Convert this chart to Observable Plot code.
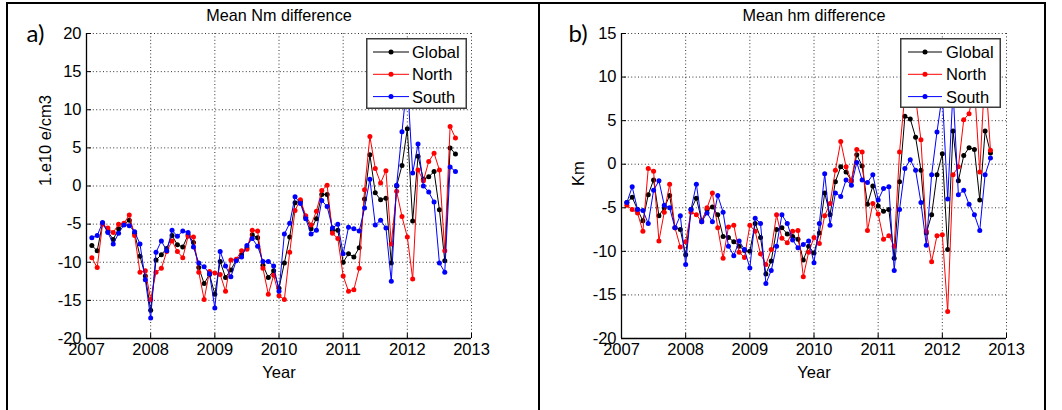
<!DOCTYPE html>
<html>
<head>
<meta charset="utf-8">
<script src="https://cdn.jsdelivr.net/npm/d3@7"></script>
<script src="https://cdn.jsdelivr.net/npm/@observablehq/plot@0.6"></script>
<style>
  body { margin: 0; background: #fff; }
  #root { position: relative; width: 1062px; height: 410px; overflow: hidden; background: #fff; }
  .panel { position: absolute; top: 0; width: 531px; height: 410px; }
  .bar { position: absolute; background: #000; }
  .legend { position: absolute; }
</style>
</head>
<body>
<div id="root"></div>
<script>
// ---------- data ----------
const xTicks = [2007, 2008, 2009, 2010, 2011, 2012, 2013];
const nmTicks = [-20, -15, -10, -5, 0, 5, 10, 15, 20];
const hmTicks = [-20, -15, -10, -5, 0, 5, 10, 15];
const seriesNames = ["Global", "North", "South"];
// month number counted from Jan 2007 (k/12 years after 2007.0)
const monthIndex = d3.range(1, 70);

const nmGlobal = [-7.8,-8.5,-4.9,-6.0,-7.0,-5.6,-5.0,-4.5,-6.2,-9.2,-11.8,-16.3,
  -9.7,-9.0,-8.2,-6.5,-7.7,-8.0,-6.4,-7.4,-10.7,-12.8,-11.6,-14.2,
  -9.9,-12.0,-11.0,-9.7,-9.0,-8.1,-6.4,-6.8,-10.4,-12.0,-11.1,-13.4,
  -10.1,-6.7,-2.2,-2.0,-4.1,-5.6,-4.3,-1.1,-1.1,-5.8,-5.8,-10.0,
  -8.9,-9.3,-8.1,-1.7,4.1,-0.9,-1.8,-1.6,-10.1,0.0,2.7,7.5,
  -4.6,3.9,0.9,1.2,1.9,-3.1,-9.8,5.0,4.2];
const nmNorth = [-9.4,-10.7,-5.0,-5.5,-6.1,-5.0,-4.9,-3.8,-6.5,-11.3,-11.1,-14.9,
  -11.3,-10.8,-8.6,-7.2,-8.6,-9.4,-6.6,-6.7,-11.3,-14.9,-11.2,-11.4,
  -11.6,-13.8,-9.7,-9.6,-8.5,-8.3,-5.8,-5.9,-10.8,-14.2,-11.7,-14.4,
  -14.9,-8.7,-3.2,-1.8,-3.9,-5.1,-3.3,-0.6,0.1,-6.2,-6.9,-11.8,
  -13.8,-13.6,-10.8,-0.5,6.5,2.3,0.4,2.0,-7.6,-0.7,-4.0,-6.7,
  -12.2,2.1,0.7,3.2,4.3,2.1,-8.5,7.8,6.3];
const nmSouth = [-6.8,-6.5,-4.8,-6.1,-7.6,-6.2,-5.1,-5.2,-6.0,-7.6,-12.3,-17.3,
  -8.7,-7.2,-8.5,-5.8,-6.6,-5.9,-6.1,-8.0,-10.1,-10.6,-11.5,-16.0,
  -8.6,-10.5,-11.9,-9.8,-9.3,-7.8,-6.9,-7.9,-9.9,-9.9,-10.5,-13.8,
  -6.3,-4.9,-1.4,-2.3,-4.3,-6.3,-5.8,-1.9,-2.7,-5.5,-5.0,-8.9,
  -5.4,-5.6,-5.9,-2.9,0.9,-5.1,-4.5,-5.5,-12.5,0.1,7.1,14.0,
  1.7,5.5,0.0,-0.8,-2.1,-10.1,-11.3,2.5,1.9];

const hmGlobal = [-4.4,-3.8,-5.2,-6.5,-3.5,-1.8,-5.9,-5.0,-3.6,-7.3,-7.5,-10.4,
  -5.2,-3.9,-6.5,-5.2,-4.9,-5.8,-8.3,-8.4,-8.9,-9.4,-9.9,-10.0,
  -6.8,-8.4,-12.6,-11.1,-7.5,-7.3,-8.0,-8.3,-8.6,-11.0,-9.4,-10.2,
  -7.9,-3.3,-5.8,-2.0,-0.3,-0.9,-1.9,1.1,-0.2,-4.6,-2.5,-4.8,
  -5.4,-5.2,-10.8,-2.0,5.5,5.2,3.1,-0.7,-7.9,-5.8,-1.2,1.2,
  -9.8,3.8,-1.9,1.0,1.9,1.7,-4.1,3.8,1.3];
const hmNorth = [-4.7,-5.2,-5.6,-7.7,-0.5,-0.8,-8.8,-5.5,-2.3,-7.3,-9.5,-8.9,
  -5.5,-5.8,-6.6,-5.0,-3.3,-7.3,-10.8,-7.2,-7.0,-10.1,-10.7,-7.0,
  -7.7,-10.3,-11.5,-9.8,-5.8,-8.5,-9.0,-7.7,-7.6,-12.9,-10.1,-8.4,
  -9.1,-5.9,-4.5,-0.7,2.6,-0.3,-1.9,1.7,1.4,-7.6,-4.5,-5.7,
  -8.6,-8.2,-9.4,1.4,8.0,10.0,7.6,2.8,-7.7,-11.2,-8.2,-8.1,
  -16.9,-1.2,-0.3,5.1,5.8,9.0,-0.9,11.0,1.6];
const hmSouth = [-4.4,-2.6,-5.2,-5.3,-6.8,-3.0,-1.9,-4.7,-5.0,-7.3,-5.9,-11.5,
  -5.2,-2.3,-6.6,-5.6,-6.6,-3.6,-5.5,-9.4,-10.5,-8.8,-9.8,-11.9,
  -6.2,-6.8,-13.7,-12.2,-9.4,-5.8,-6.8,-8.7,-9.6,-9.2,-8.8,-11.3,
  -6.8,-1.1,-7.0,-3.3,-3.7,-1.8,-2.4,0.2,-1.8,-2.1,-1.2,-4.1,
  -2.8,-2.6,-12.2,-5.2,-0.5,0.5,-0.7,-4.4,-9.3,-1.2,3.7,8.0,
  -4.0,8.5,-3.5,-3.0,-4.6,-5.8,-7.6,-1.2,0.7];

const colors = {Global: "#000000", North: "#ff0000", South: "#0000ff"};

// ---------- drawing ----------
const FONT = "'Liberation Sans', Arial, Helvetica, sans-serif";
const root = document.getElementById("root");

function makePanel(cfg) {
  const valuesBySeries = {Global: cfg.G, North: cfg.N, South: cfg.S};
  const grid = {stroke: "#000", strokeOpacity: 0.8, strokeWidth: 1, strokeDasharray: "1,2.4"};
  const marks = [
    Plot.gridX(xTicks, grid),
    Plot.gridY(cfg.yTicks, grid)
  ];
  for (const name of seriesNames) {
    const data = valuesBySeries[name].map((v, i) => ({t: 2007 + monthIndex[i] / 12, v}));
    marks.push(Plot.line(data, {x: "t", y: "v", stroke: colors[name], strokeWidth: 1}));
    marks.push(Plot.dot(data, {x: "t", y: "v", fill: colors[name], r: 2.5}));
  }
  const y0 = cfg.yTicks[0];
  marks.push(
    Plot.ruleY([y0], {stroke: "#000", strokeWidth: 1.3}),
    Plot.ruleX([xTicks[0]], {stroke: "#000", strokeWidth: 1.3}),
    Plot.ruleX(xTicks, {x: d => d, y1: y0, y2: y0, insetTop: -5, stroke: "#000"}),
    Plot.ruleY(cfg.yTicks, {y: d => d, x1: xTicks[0], x2: xTicks[0], insetRight: -5, stroke: "#000"}),
    Plot.text([cfg.title], {text: d => d, frameAnchor: "top", dy: -13, lineAnchor: "bottom", fontSize: 16.2}),
    Plot.text(["Year"], {text: d => d, frameAnchor: "bottom", dy: 39, lineAnchor: "bottom", fontSize: 16.5}),
    Plot.text([cfg.ylabel], {text: d => d, frameAnchor: "left", dx: cfg.ylabelDx, rotate: -90, lineAnchor: "bottom", fontSize: 16.5}),
    Plot.text([cfg.tag], {text: d => d, frameAnchor: "top-left", dx: cfg.tagDx, dy: 8, textAnchor: "start", lineAnchor: "bottom", fontSize: 24, fontFamily: "Lato, 'Open Sans', sans-serif"})
  );
  const svg = Plot.plot({
    width: 531, height: 410,
    marginLeft: cfg.marginLeft, marginRight: cfg.marginRight, marginTop: 33, marginBottom: 72,
    x: {domain: [2007, 2013], ticks: xTicks, tickSize: 0, tickPadding: 5, tickFormat: d => String(d), label: null},
    y: {domain: [cfg.yTicks[0], cfg.yTicks[cfg.yTicks.length - 1]], ticks: cfg.yTicks, tickSize: 0, tickPadding: 5, tickFormat: d => String(d), label: null},
    style: {fontFamily: FONT, fontSize: "16.5px", color: "#000", background: "transparent", overflow: "visible"},
    marks
  });
  const div = document.createElement("div");
  div.className = "panel";
  div.style.left = cfg.left + "px";
  div.appendChild(svg);
  root.appendChild(div);

  // legend box (drawn on top of the data, as in the original)
  const L = cfg.legend;
  const ns = "http://www.w3.org/2000/svg";
  const lg = document.createElementNS(ns, "svg");
  lg.setAttribute("width", L.w); lg.setAttribute("height", L.h);
  lg.setAttribute("class", "legend");
  lg.style.left = L.x + "px"; lg.style.top = L.y + "px";
  let inner = `<rect x="0.75" y="0.75" width="${L.w - 1.5}" height="${L.h - 1.5}" fill="#fff" stroke="#3c3c3c" stroke-width="1.5"/>`;
  seriesNames.forEach((name, i) => {
    const cy = 14 + i * 22.3;
    inner += `<line x1="${L.lx1}" x2="${L.lx2}" y1="${cy}" y2="${cy}" stroke="${colors[name]}" stroke-width="1"/>`;
    inner += `<circle cx="${(L.lx1 + L.lx2) / 2}" cy="${cy}" r="2.5" fill="${colors[name]}"/>`;
    inner += `<text x="${L.tx}" y="${cy + 6}" font-family="${FONT.replace(/'/g, "")}" font-size="16.5" fill="#000">${name}</text>`;
  });
  lg.innerHTML = inner;
  root.appendChild(lg);
}

makePanel({
  left: 0, marginLeft: 86, marginRight: 60,
  yTicks: nmTicks, G: nmGlobal, N: nmNorth, S: nmSouth,
  title: "Mean Nm difference", ylabel: "1.e10 e/cm3", ylabelDx: -36,
  tag: "a)", tagDx: -60,
  legend: {x: 366, y: 38, w: 101, h: 71, lx1: 7, lx2: 43, tx: 46}
});
makePanel({
  left: 531, marginLeft: 90, marginRight: 56,
  yTicks: hmTicks, G: hmGlobal, N: hmNorth, S: hmSouth,
  title: "Mean hm difference", ylabel: "Km", ylabelDx: -38,
  tag: "b)", tagDx: -53,
  legend: {x: 900, y: 38, w: 101, h: 70, lx1: 8, lx2: 42, tx: 46}
});

// outer cell borders
[[6, 2, 1040, 2], [6, 2, 2, 410], [538, 2, 2, 410], [1044, 2, 2, 410]].forEach(([l, t, w, h]) => {
  const b = document.createElement("div");
  b.className = "bar";
  Object.assign(b.style, {left: l + "px", top: t + "px", width: w + "px", height: h + "px"});
  root.appendChild(b);
});
</script>
</body>
</html>
